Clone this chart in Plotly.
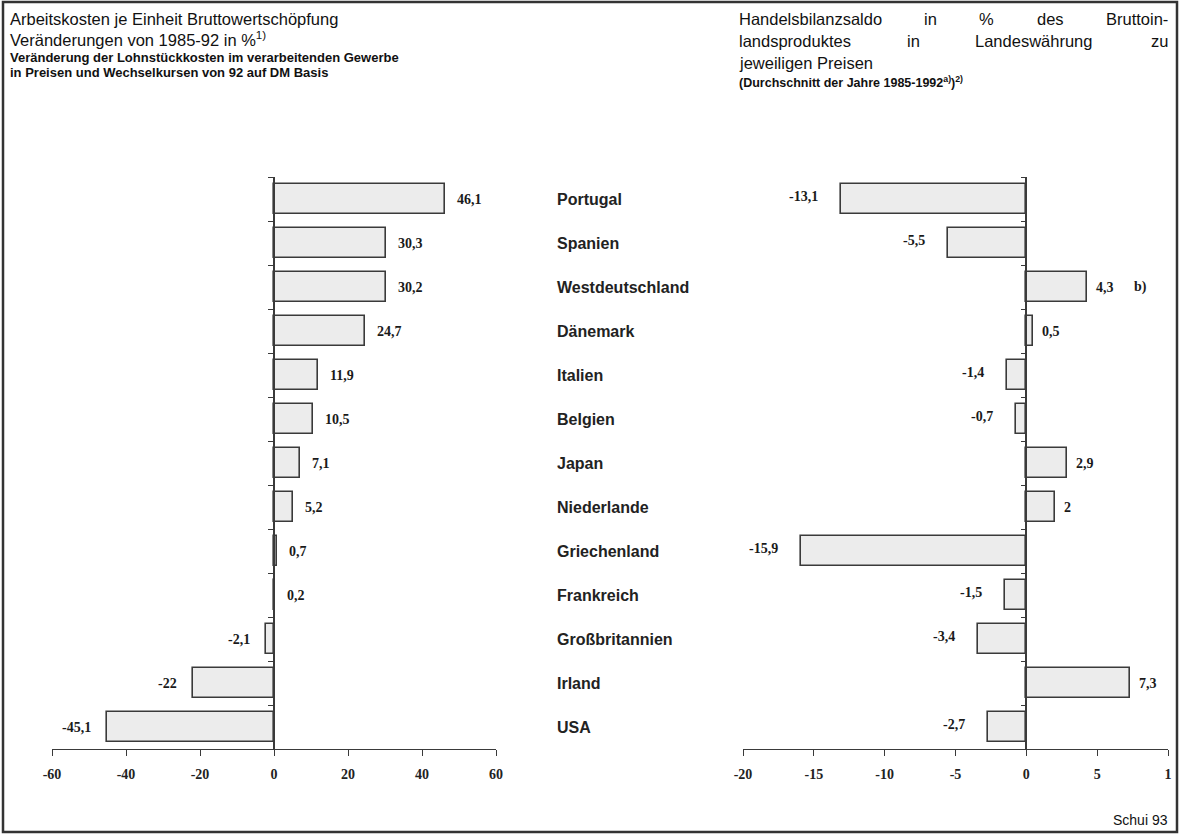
import plotly.graph_objects as go

# ---------------- data ----------------
countries = ["Portugal", "Spanien", "Westdeutschland", "Dänemark", "Italien", "Belgien",
             "Japan", "Niederlande", "Griechenland", "Frankreich", "Großbritannien",
             "Irland", "USA"]
arbeitskosten = [46.1, 30.3, 30.2, 24.7, 11.9, 10.5, 7.1, 5.2, 0.7, 0.2, -2.1, -22, -45.1]
handelsbilanz = [-13.1, -5.5, 4.3, 0.5, -1.4, -0.7, 2.9, 2, -15.9, -1.5, -3.4, 7.3, -2.7]
handels_notes = ["", "", "b)", "", "", "", "", "", "", "", "", "", ""]

left_ticks = [-60, -40, -20, 0, 20, 40, 60]
left_ticktext = ["-60", "-40", "-20", "0", "20", "40", "60"]
right_ticks = [-20, -15, -10, -5, 0, 5, 10]
right_ticktext = ["-20", "-15", "-10", "-5", "0", "5", "1"]

# ---------------- geometry helpers ----------------
W, H = 1184, 834
TOP, BOT = 177, 749          # pixel rows of plot area
def px(x):
    return x / W
def py(y):
    return (BOT - y) / (BOT - TOP)

L_DOM = [px(52), px(496)]
R_DOM = [px(743), px(1168)]
L_RANGE = [-60, 60]
R_RANGE = [-20, 10]

def zero_pos(dom, rng):
    return dom[0] + (0 - rng[0]) / (rng[1] - rng[0]) * (dom[1] - dom[0])

def fmt(v):
    return f"{v:g}".replace(".", ",")

idx = list(range(len(countries)))
boundaries = [i - 0.5 for i in range(len(countries) + 1)]
YRANGE = [len(countries) - 0.5, -0.5]

LINE = "#3a3a3a"
FILL = "#ececec"
SERIF = "Liberation Serif"
SANS = "Liberation Sans"

fig = go.Figure()
fig.add_trace(go.Bar(x=arbeitskosten, y=idx, orientation="h", width=0.66,
                     marker=dict(color=FILL, line=dict(color=LINE, width=1.6)),
                     xaxis="x", yaxis="y", hoverinfo="skip", showlegend=False))
fig.add_trace(go.Bar(x=handelsbilanz, y=idx, orientation="h", width=0.66,
                     marker=dict(color=FILL, line=dict(color=LINE, width=1.6)),
                     xaxis="x2", yaxis="y2", hoverinfo="skip", showlegend=False))

tickfont = dict(family=SERIF, size=14, color="#222")
xcommon = dict(showline=True, linecolor=LINE, linewidth=1.3, ticks="outside", ticklen=6,
               tickwidth=1.3, tickcolor=LINE, showgrid=False, zeroline=False,
               tickfont=tickfont, ticklabelstandoff=6, fixedrange=True)
ycommon = dict(range=YRANGE, showgrid=False, zeroline=False, showticklabels=False,
               showline=True, linecolor=LINE, linewidth=1.6, ticks="outside", ticklen=5,
               tickwidth=1.2, tickcolor=LINE, tickvals=boundaries, anchor="free",
               fixedrange=True)
xtop = dict(side="top", anchor="free", position=0, ticks="outside", ticklen=6,
            tickwidth=1.3, tickcolor=LINE, showticklabels=False, showline=False,
            showgrid=False, zeroline=False, fixedrange=True)

fig.update_layout(
    width=W, height=H,
    margin=dict(l=0, r=0, t=TOP, b=H - BOT, autoexpand=False),
    paper_bgcolor="white", plot_bgcolor="rgba(0,0,0,0)",
    bargap=0,
    xaxis=dict(domain=L_DOM, range=L_RANGE, tickvals=left_ticks,
               ticktext=[f"<b>{t}</b>" for t in left_ticktext], anchor="y", **xcommon),
    xaxis2=dict(domain=R_DOM, range=R_RANGE, tickvals=right_ticks,
                ticktext=[f"<b>{t}</b>" for t in right_ticktext], anchor="y", **xcommon),
    xaxis3=dict(overlaying="x", range=L_RANGE, tickvals=left_ticks, **xtop),
    xaxis4=dict(overlaying="x2", range=R_RANGE, tickvals=right_ticks, **xtop),
    yaxis=dict(position=zero_pos(L_DOM, L_RANGE), side="left", **ycommon),
    yaxis2=dict(position=zero_pos(R_DOM, R_RANGE), side="left", overlaying="y", **ycommon),
    yaxis3=dict(position=zero_pos(L_DOM, L_RANGE), side="right", overlaying="y", **ycommon),
    yaxis4=dict(position=zero_pos(R_DOM, R_RANGE), side="right", overlaying="y", **ycommon),
)

annotations = []
valfont = dict(family=SERIF, size=14, color="#1a1a1a")
for i, v in enumerate(arbeitskosten):
    annotations.append(dict(x=v, y=i, xref="x", yref="y", text=f"<b>{fmt(v)}</b>",
                            showarrow=False, font=valfont,
                            xanchor="left" if v >= 0 else "right",
                            xshift=10 if v >= 0 else -14))
for i, v in enumerate(handelsbilanz):
    annotations.append(dict(x=v, y=i, xref="x2", yref="y2", text=f"<b>{fmt(v)}</b>",
                            showarrow=False, font=valfont,
                            xanchor="left" if v >= 0 else "right",
                            xshift=7 if v >= 0 else -21, yshift=3 if v < 0 else 0))
    if handels_notes[i]:
        annotations.append(dict(x=v, y=i, xref="x2", yref="y2",
                                text=f"<b>{handels_notes[i]}</b>", showarrow=False,
                                font=valfont, xanchor="left", xshift=45))
for i, c in enumerate(countries):
    annotations.append(dict(x=px(555), y=i, xref="paper", yref="y", text=f"<b>{c}</b>",
                            showarrow=False, xanchor="left",
                            font=dict(family=SANS, size=16, color="#222")))

def title(text, x, y, size, anchor="left"):
    annotations.append(dict(x=px(x), y=py(y), xref="paper", yref="paper", text=text,
                            showarrow=False, xanchor=anchor, yanchor="middle",
                            font=dict(family=SANS, size=size, color="#111")))

TS = 16.5
SS = 13
title("Arbeitskosten je Einheit Bruttowertschöpfung", 8, 19, TS)
title("Veränderungen von 1985-92 in %<sup>1)</sup>", 8, 39, TS)
title("<b>Veränderung der Lohnstückkosten im verarbeitenden Gewerbe</b>", 8, 57, SS)
title("<b>in Preisen und Wechselkursen von 92 auf DM Basis</b>", 8, 72, SS)

# justified right title (word by word)
title("Handelsbilanzsaldo", 737, 19, TS)
title("in", 922, 19, TS)
title("%", 977, 19, TS)
title("des", 1035, 19, TS)
title("Bruttoin-", 1170, 19, TS, anchor="right")
title("landsproduktes", 737, 41, TS)
title("in", 905, 41, TS)
title("Landeswährung", 973, 41, TS)
title("zu", 1170, 41, TS, anchor="right")
title("jeweiligen Preisen", 737, 63, TS)
title("<b>(Durchschnitt der Jahre 1985-1992<sup>a)</sup>)<sup>2)</sup></b>", 737, 82, 12.5)

title("Schui 93", 1170, 820, 14, anchor="right")

fig.update_layout(annotations=annotations)

# frame
fig.add_shape(type="rect", xref="paper", yref="paper",
              x0=px(3), x1=px(1177), y0=py(832), y1=py(2),
              line=dict(color="#333", width=2.5), layer="above")

fig.write_html("out.html", config={"displayModeBar": False},
               post_script="document.body.style.margin='0px';")
